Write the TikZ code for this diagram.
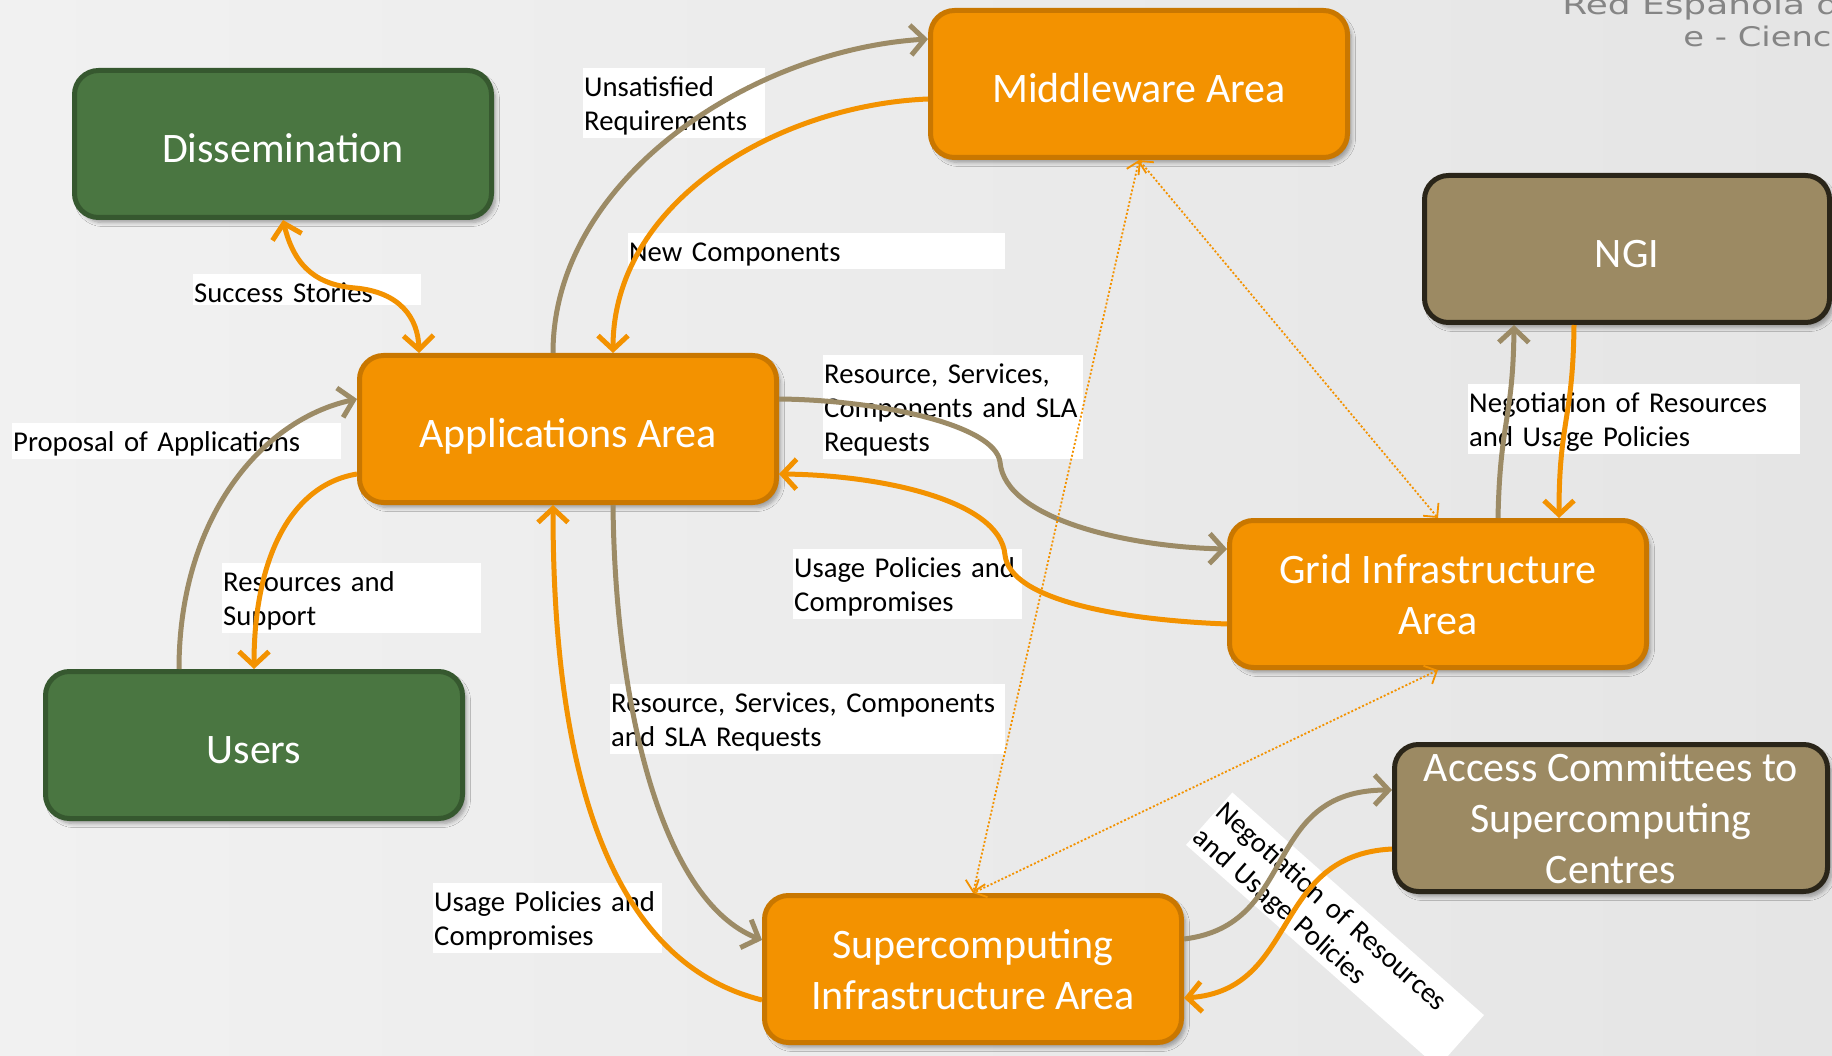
\documentclass[tikz,border=0pt]{standalone}
\usepackage{fontspec}
\setmainfont{Carlito}
\newfontfamily\logofont{DejaVu Sans}
\usepackage{tikz}
\usetikzlibrary{positioning, shapes, arrows.meta, calc, shadows.blur}

\definecolor{areaorange}{HTML}{F39200}
\definecolor{areaedge}{HTML}{C97700}
\definecolor{usergreen}{HTML}{4A7641}
\definecolor{useredge}{HTML}{36582F}
\definecolor{bodytan}{HTML}{9C8A63}
\definecolor{bodyedge}{HTML}{2A2519}
\definecolor{tanline}{HTML}{9C8B66}
\definecolor{bgleft}{HTML}{F1F1F1}
\definecolor{bgright}{HTML}{E5E5E5}
\definecolor{logogray}{HTML}{858585}

\begin{document}
\begin{tikzpicture}[x=1pt, y=-1pt,
    >={Straight Barb[length=14pt, width=30pt]},
    box/.style={rectangle, rounded corners=24pt, line width=5pt, minimum width=417pt, minimum height=147pt, inner sep=2pt,
      text=white, align=center, font=\fontsize{42}{51}\selectfont, text depth=0pt,
      execute at begin node={\rule{0pt}{37pt}},
      blur shadow={shadow xshift=4pt, shadow yshift=-5pt, shadow blur steps=6, shadow blur radius=4pt, shadow opacity=35}},
    area/.style={box, fill=areaorange, draw=areaedge},
    people/.style={box, fill=usergreen, draw=useredge},
    body/.style={box, fill=bodytan, draw=bodyedge},
    lbl/.style={fill=white, anchor=north west, align=left, inner xsep=1pt, inner ysep=2.5pt, font=\fontsize{28.7}{34}\selectfont,
      execute at begin node={\rule{0pt}{26pt}}},
    logo/.style={logogray, font=\logofont\fontsize{27}{32}\selectfont, anchor=base east},
    tanarrow/.style={draw=tanline, line width=5pt, ->},
    orarrow/.style={draw=areaorange, line width=5pt, ->},
    dotarrow/.style={draw=areaorange, line width=1.8pt, dash pattern=on 2pt off 2pt, >={Straight Barb[length=10pt, width=20pt]}, <->}
  ]
  \useasboundingbox (0,0) rectangle (1832,1056);
  \clip (0,0) rectangle (1832,1056);
  \shade[left color=bgleft, right color=bgright] (0,0) rectangle (1832,1056);

  % Logo
  \node[logo, xscale=1.33] (logotop) at (1866,15) {Red Española de};
  \node[logo, xscale=1.25] (logobottom) at (1866,47) {e - Ciencia};

  % Nodes
  \node[people] (dissem) at (283,144) {Dissemination};
  \node[area] (middleware) at (1139,84) {Middleware Area};
  \node[area] (apps) at (568,429) {Applications Area};
  \node[body, minimum width=405pt] (ngi) at (1627,249) {NGI};
  \node[area] (grid) at (1438,594) {Grid Infrastructure\\Area};
  \node[people] (users) at (254,745) {Users};
  \node[body, minimum width=433pt] (access) at (1611,818) {Access Committees to\\Supercomputing\\Centres};
  \node[area] (supercomp) at (973,969) {Supercomputing\\Infrastructure Area};

  % Labels
  \node[lbl, text width=226pt] (lblsuccess) at (193,274) {Success Stories};
  \node[lbl, text width=180pt] (lblunsat) at (583,68) {Unsatisfied\\Requirements};
  \node[lbl, text width=375pt] (lblnew) at (628,233) {New Components};
  \node[lbl, text width=258pt] (lblreqgrid) at (823,355) {Resource, Services,\\Components and SLA\\Requests};
  \node[lbl, text width=227pt] (lblpolgrid) at (793,549) {Usage Policies and\\Compromises};
  \node[lbl, text width=327pt] (lblproposal) at (12,423) {Proposal of Applications};
  \node[lbl, text width=257pt] (lblsupport) at (222,563) {Resources and\\Support};
  \node[lbl, text width=393pt] (lblreqsuper) at (610,684) {Resource, Services, Components\\and SLA Requests};
  \node[lbl, text width=227pt] (lblpolsuper) at (433,883) {Usage Policies and\\Compromises};
  \node[lbl, text width=330pt] (lblngi) at (1468,384) {Negotiation of Resources\\and Usage Policies};
  \node[lbl, anchor=center, rotate=-41.5, text width=334pt] (lblaccess) at (1335,930) {Negotiation of Resources\\and Usage Policies};

  % Arrows
  \draw[orarrow, <->] (dissem.south) .. controls (295,270) and (320,285) .. (355,288)
    .. controls (400,292) and (418,318) .. ($(apps.north west)+(62,0)$);
  \draw[tanarrow] ($(apps.north west)+(196,0)$) .. controls (553,180) and (750,50) .. ($(middleware.west)+(0,-45)$);
  \draw[orarrow] ($(middleware.west)+(0,15)$) .. controls (780,105) and (613,200) .. ($(apps.north west)+(256,0)$);
  \draw[tanarrow] ($(users.north west)+(136,0)$) .. controls (179,520) and (260,420) .. ($(apps.west)+(0,-30)$);
  \draw[orarrow] ($(apps.west)+(0,45)$) .. controls (290,485) and (254,560) .. (users.north);
  \draw[tanarrow] ($(apps.east)+(0,-30)$) .. controls (880,400) and (995,425) .. (1000,462)
    .. controls (1005,520) and (1130,547) .. ($(grid.west)+(0,-45)$);
  \draw[orarrow] ($(grid.west)+(0,30)$) .. controls (1120,620) and (1010,600) .. (1005,555)
    .. controls (1000,500) and (880,475) .. ($(apps.east)+(0,45)$);
  \draw[tanarrow] ($(apps.south)+(45,0)$) .. controls (615,700) and (660,900) .. ($(supercomp.west)+(0,-29)$);
  \draw[orarrow] ($(supercomp.west)+(0,31)$) .. controls (600,960) and (553,750) .. ($(apps.south)+(-15,0)$);
  \draw[tanarrow] ($(grid.north)+(60,0)$) .. controls (1500,420) and (1513,420) .. ($(ngi.south west)+(92,0)$);
  \draw[orarrow] ($(ngi.south west)+(152,0)$) .. controls (1573,420) and (1559,420) .. ($(grid.north)+(121,0)$);
  \draw[tanarrow] ($(supercomp.east)+(0,-30)$) .. controls (1300,925) and (1260,790) .. ($(access.west)+(0,-28)$);
  \draw[orarrow] ($(access.west)+(0,31)$) .. controls (1270,855) and (1300,990) .. ($(supercomp.east)+(0,29)$);

  \foreach \from/\to in {middleware.south/supercomp.north, middleware.south/grid.north, grid.south/supercomp.north}
    \draw[dotarrow] (\from) -- (\to);
\end{tikzpicture}
\end{document}
